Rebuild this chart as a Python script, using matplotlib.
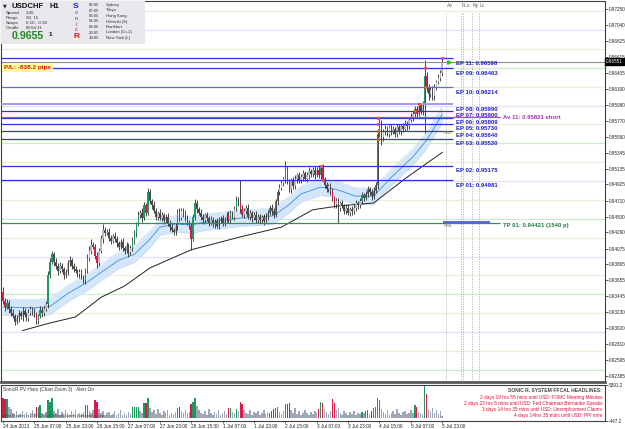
import numpy as np
import matplotlib
matplotlib.use("Agg")
import matplotlib.pyplot as plt
from matplotlib import transforms

plt.rcParams['font.family'] = ['Liberation Sans', 'DejaVu Sans']

# ——— hourly bars, USDCHF H1, 24 Jun 15:00 -> 5 Jul 23:00 ———
first_open = 0.9350
closes = [
    0.9338, 0.9330, 0.9336, 0.9328, 0.9322, 0.9318, 0.9310, 0.9315, 0.9322, 0.9318, 0.9325, 0.9320, 0.9316, 0.9322, 0.9327,
    0.9324, 0.9320, 0.9312, 0.9318, 0.9326, 0.9322, 0.9328, 0.9334, 0.9372, 0.9390, 0.9400, 0.9390, 0.9384, 0.9378, 0.9384,
    0.9380, 0.9372, 0.9376, 0.9388, 0.9392, 0.9385, 0.9380, 0.9378, 0.9374, 0.9376, 0.9370, 0.9366, 0.9378, 0.9395, 0.9405,
    0.9412, 0.9410, 0.9398, 0.9388, 0.9405, 0.9420, 0.9432, 0.9428, 0.9430, 0.9422, 0.9418, 0.9424, 0.9420, 0.9415, 0.9410,
    0.9416, 0.9408, 0.9405, 0.9412, 0.9403, 0.9408, 0.9418, 0.9428, 0.9440, 0.9452, 0.9455, 0.9448, 0.9465, 0.9455, 0.9482,
    0.9470, 0.9465, 0.9458, 0.9450, 0.9455, 0.9448, 0.9452, 0.9445, 0.9450, 0.9442, 0.9436, 0.9432, 0.9429, 0.9437, 0.9456,
    0.9448, 0.9458, 0.9454, 0.9448, 0.9442, 0.9438, 0.9420, 0.9450, 0.9468, 0.9460, 0.9455, 0.9450, 0.9445, 0.9452, 0.9448,
    0.9442, 0.9446, 0.9440, 0.9444, 0.9438, 0.9445, 0.9448, 0.9442, 0.9446, 0.9452, 0.9446, 0.9455, 0.9450, 0.9460, 0.9472,
    0.9468, 0.9460, 0.9452, 0.9458, 0.9462, 0.9450, 0.9455, 0.9448, 0.9452, 0.9446, 0.9450, 0.9445, 0.9449, 0.9444, 0.9450,
    0.9455, 0.9462, 0.9457, 0.9452, 0.9470, 0.9482, 0.9488, 0.9495, 0.9500, 0.9512, 0.9496, 0.9486, 0.9498, 0.9490, 0.9500,
    0.9505, 0.9498, 0.9502, 0.9508, 0.9500, 0.9505, 0.9510, 0.9506, 0.9512, 0.9505, 0.9512, 0.9505, 0.9514, 0.9500, 0.9492,
    0.9486, 0.9490, 0.9484, 0.9474, 0.9466, 0.9470, 0.9462, 0.9468, 0.9464, 0.9458, 0.9462, 0.9455, 0.9460, 0.9457, 0.9462,
    0.9468, 0.9465, 0.9470, 0.9478, 0.9475, 0.9480, 0.9486, 0.9482, 0.9477, 0.9484, 0.9492, 0.9560, 0.9575, 0.9555, 0.9562,
    0.9566, 0.9560, 0.9568, 0.9562, 0.9566, 0.9560, 0.9568, 0.9563, 0.9570, 0.9566, 0.9573, 0.9570, 0.9578, 0.9582, 0.9586,
    0.9592, 0.9586, 0.9596, 0.9590, 0.9598, 0.9636, 0.9620, 0.9612, 0.9618, 0.9610, 0.9622, 0.9628, 0.9634, 0.9640, 0.9655,
]
# wick lengths in pips above / below the body
wick_up = [
    7, 4, 5, 3, 4, 6, 3, 5, 4, 3, 5, 4, 3, 6, 4,
    3, 5, 4, 3, 5, 4, 3, 4, 6, 5, 4, 3, 5, 4, 6,
    4, 3, 5, 4, 6, 3, 4, 5, 3, 4, 5, 3, 4, 5, 6,
    8, 4, 3, 5, 4, 6, 8, 4, 3, 5, 4, 3, 5, 4, 3,
    4, 5, 3, 4, 3, 4, 5, 4, 3, 5, 4, 6, 4, 3, 6,
    4, 3, 5, 4, 3, 5, 4, 3, 4, 5, 3, 4, 3, 5, 4,
    5, 4, 3, 5, 4, 3, 4, 3, 5, 4, 3, 5, 4, 3, 4,
    3, 5, 4, 3, 4, 5, 3, 4, 3, 4, 5, 4, 3, 4, 5,
    4, 30, 5, 4, 3, 5, 4, 3, 4, 5, 3, 4, 3, 4, 5,
    4, 3, 5, 4, 3, 4, 5, 4, 3, 12, 5, 4, 3, 4, 5,
    3, 4, 5, 4, 3, 4, 5, 3, 4, 5, 4, 6, 4, 5, 3,
    4, 3, 5, 4, 3, 4, 5, 3, 4, 3, 5, 4, 3, 4, 5,
    4, 3, 5, 4, 3, 4, 5, 3, 4, 5, 4, 6, 5, 3, 4,
    5, 4, 3, 5, 4, 3, 4, 5, 3, 4, 5, 4, 3, 5, 4,
    5, 4, 4, 3, 5, 21, 6, 5, 4, 5, 4, 3, 5, 4, 5,
]
wick_dn = [
    4, 5, 3, 6, 4, 3, 4, 3, 5, 4, 6, 3, 4, 5, 3,
    4, 3, 5, 4, 3, 5, 4, 3, 5, 4, 3, 6, 4, 5, 3,
    4, 5, 3, 4, 3, 5, 4, 3, 4, 5, 3, 4, 6, 3, 4,
    5, 3, 4, 6, 4, 3, 5, 4, 3, 4, 5, 3, 4, 5, 4,
    3, 4, 5, 3, 6, 4, 3, 4, 5, 3, 4, 5, 3, 4, 3,
    4, 5, 3, 4, 5, 3, 4, 5, 3, 4, 5, 3, 4, 3, 5,
    4, 3, 5, 4, 3, 4, 14, 3, 4, 5, 3, 4, 5, 3, 4,
    5, 3, 4, 5, 3, 4, 3, 5, 4, 3, 4, 5, 3, 4, 3,
    4, 5, 3, 4, 5, 3, 4, 5, 3, 4, 5, 3, 4, 5, 3,
    4, 3, 5, 4, 3, 5, 4, 3, 4, 5, 3, 4, 5, 3, 4,
    5, 3, 4, 5, 3, 4, 5, 3, 4, 5, 3, 4, 5, 3, 4,
    3, 4, 5, 3, 4, 5, 21, 4, 3, 5, 4, 3, 4, 5, 3,
    4, 5, 3, 4, 5, 3, 4, 3, 5, 4, 3, 5, 4, 10, 5,
    4, 3, 5, 4, 3, 5, 4, 3, 5, 4, 3, 5, 4, 3, 5,
    4, 5, 3, 4, 5, 37, 5, 8, 4, 6, 5, 4, 3, 5, 4,
]
volume = [
    3300, 3100, 3100, 1870, 1450, 900, 700, 1100, 600, 800, 1200, 700, 1000, 500, 900,
    1300, 800, 1870, 1870, 2080, 900, 600, 1000, 2900, 2700, 3300, 1200, 800, 1500, 600,
    1000, 700, 1300, 900, 500, 1100, 800, 1400, 600, 900, 700, 1000, 2080, 2080, 1200,
    800, 1400, 2900, 2600, 1450, 900, 1200, 600, 800, 1000, 500, 700, 1100, 600, 900,
    1300, 500, 800, 600, 1000, 700, 1870, 1870, 1870, 1870, 1200, 900, 2500, 2500, 3300,
    1700, 1000, 1300, 700, 1500, 900, 600, 1100, 800, 1400, 500, 900, 700, 1000, 1650,
    1870, 1200, 800, 1400, 900, 1000, 2280, 2700, 3300, 2000, 1300, 900, 700, 1200, 600,
    1500, 800, 500, 1000, 700, 1300, 600, 900, 1100, 700, 1650, 1650, 1000, 800, 1450,
    1100, 2700, 2280, 1300, 900, 700, 1400, 600, 1000, 800, 1200, 500, 900, 1300, 700,
    1000, 830, 1250, 1450, 1650, 1870, 1000, 700, 1200, 2280, 2280, 2500, 1300, 900, 1600,
    700, 1100, 600, 900, 1400, 800, 500, 1000, 700, 1200, 900, 1450, 2700, 2500, 1500,
    1000, 700, 1200, 3100, 2500, 1300, 1700, 900, 600, 1100, 800, 500, 1000, 700, 1200,
    600, 900, 700, 1050, 800, 1250, 1350, 700, 1250, 1650, 1900, 3300, 2900, 1500, 1000,
    700, 1300, 600, 900, 1100, 700, 1500, 800, 500, 1000, 1200, 700, 900, 1300, 800,
    2080, 1750, 1000, 800, 700, 5391, 3940, 1500, 1200, 1600, 900, 1300, 700, 1100, 400,
]
vol_green = [2, 18, 19, 23, 24, 25, 42, 43, 66, 67, 68, 69, 72, 74, 89, 97, 98, 116, 119, 136,
             139, 140, 144, 162, 183, 185, 186, 189, 190, 191, 192, 210, 215]
vol_red = [0, 1, 17, 47, 48, 73, 90, 96, 115, 121, 122, 137, 138, 145, 146, 161, 163, 168, 169,
           188, 211, 216]

# moving averages (bar index, price)
ema_blue_bar = [0, 16, 24, 33, 43, 50, 59, 67, 75, 80, 88, 96, 104, 112, 121, 130, 138, 146, 152,
                162, 170, 180, 189, 198, 209, 216, 224]
ema_blue = [0.9330, 0.9329, 0.9331, 0.9348, 0.9363, 0.9376, 0.9392, 0.9400, 0.9420, 0.9436, 0.9440,
            0.9439, 0.9443, 0.9445, 0.9448, 0.9449, 0.9451, 0.9466, 0.9480, 0.9489, 0.9486, 0.9477,
            0.9477, 0.9502, 0.9529, 0.9551, 0.9585]
band_half = 0.0011
ema_black_bar = [10, 24, 37, 50, 62, 75, 96, 121, 142, 158, 171, 189, 206, 224]
ema_black = [0.9299, 0.9309, 0.9317, 0.9343, 0.9358, 0.9382, 0.9406, 0.9423, 0.9436, 0.9459,
             0.9464, 0.9468, 0.9502, 0.9535]

# trade levels
ep_names = ["EP 01", "EP 02", "EP 03", "EP 04", "EP 05", "EP 06", "EP 07", "EP 08", "EP 09", "EP 10", "EP 11"]
ep_prices = [0.94981, 0.95175, 0.95530, 0.95640, 0.95730, 0.95809, 0.95900, 0.95990, 0.96463, 0.96214, 0.96598]
ep_bars = [163, 162, 191, 191, 191, 191, 210, 212, 215, 215, 224]
av_price = 0.95821
tp_price = 0.94421
bid_price = 0.96551
rml_price = 0.94430

grid_green = [0.9247, 0.9347, 0.9447, 0.9547, 0.9647]
grid_purple = [0.9297, 0.9397, 0.9497, 0.9597, 0.9697]
grid_beige = [0.9272, 0.9322, 0.9372, 0.9422, 0.9472, 0.9522, 0.9572, 0.9622, 0.9672, 0.9722]

price_ticks = [0.97250, 0.97040, 0.96825, 0.96615, 0.96405, 0.96190, 0.95980, 0.95770, 0.95560,
               0.95345, 0.95135, 0.94925, 0.94710, 0.94500, 0.94290, 0.94075, 0.93865, 0.93655,
               0.93445, 0.93230, 0.93020, 0.92810, 0.92595, 0.92385]
date_labels = ["24 Jun 2013", "25 Jun 07:00", "25 Jun 23:00", "26 Jun 15:00", "27 Jun 07:00",
               "27 Jun 23:00", "28 Jun 15:00", "1 Jul 07:00", "1 Jul 23:00", "2 Jul 15:00",
               "3 Jul 07:00", "3 Jul 23:00", "4 Jul 15:00", "5 Jul 07:00", "5 Jul 23:00"]
session_names = ["Ao", "FLo", "", "Ny", "Lc"]
session_bars = [226.0, 233.6, 234.6, 239.2, 242.8]

headlines = ["2 days 19 hrs 55 mins until USD: FOMC Meeting Minutes",
             "2 days 23 hrs 5 mins until USD: Fed Chairman Bernanke Speaks",
             "3 days 14 hrs 35 mins until USD: Unemployment Claims",
             "4 days 14hrs 35 mins until USD: PPI m/m"]

# ——— derived ———
n = len(closes)
bars = np.arange(n)
closes = np.array(closes)
opens = np.concatenate([[first_open], closes[:-1]])
highs = np.maximum(opens, closes) + np.array(wick_up) * 0.0001
lows = np.minimum(opens, closes) - np.array(wick_dn) * 0.0001
code = np.array(['n'] * n)
code[vol_green] = 'g'
code[vol_red] = 'r'

GREEN = '#1a9a5e'
RED = '#de1848'

W, H = 625, 429
fig = plt.figure(figsize=(W / 100, H / 100), dpi=100)
fig.patch.set_facecolor('white')

def box(x0, y0, x1, y1):
    return [x0 / W, 1 - y1 / H, (x1 - x0) / W, (y1 - y0) / H]

ax = fig.add_axes(box(1, 1, 605, 382))
axv = fig.add_axes(box(1, 385, 605, 421), sharex=ax)

xmin, xmax = -1.0, 307.0
ymin, ymax = 0.92308, 0.97356
ax.set_xlim(xmin, xmax)
ax.set_ylim(ymin, ymax)

# pivot / round-number lines
ax.hlines(grid_green, xmin, xmax, color='#cdeccd', lw=0.9, zorder=1)
ax.hlines(grid_purple, xmin, xmax, color='#e4e1f6', lw=0.9, zorder=1)
ax.hlines(grid_beige, xmin, xmax, color='#f1ecdb', lw=0.9, zorder=1)

# moving averages
bx = np.array(ema_blue_bar)
by = np.array(ema_blue)
ax.fill_between(bx, by - band_half, by + band_half, color='#d4e6fa', lw=0, zorder=1.5)
ax.plot(bx, by + band_half, color='#c2daf4', lw=0.4, zorder=1.6)
ax.plot(bx, by - band_half, color='#c2daf4', lw=0.4, zorder=1.6)
ax.plot(bx, by, color='#3b8ee0', lw=0.6, zorder=1.7)
ax.plot(ema_black_bar, ema_black, color='#222222', lw=0.7, zorder=1.7)

# candles
body_col = []
for o, c, k in zip(opens, closes, code):
    if k == 'g':
        body_col.append(GREEN)
    elif k == 'r':
        body_col.append(RED)
    else:
        body_col.append('#b8b8be' if c >= o else '#4a4a50')
ax.vlines(bars, lows, highs, color='#2a2a2a', lw=0.6, zorder=2)
body_h = np.maximum(np.abs(closes - opens), 0.00008)
ax.bar(bars, body_h, bottom=np.minimum(opens, closes), width=0.75, color=body_col, lw=0, zorder=2.2)

# session markers
ax.vlines(session_bars, ymin, 0.97200, color='#b4b4b4', lw=0.6, linestyles=(0, (1.5, 1.5)), zorder=1)
for name, sb in zip(session_names, session_bars):
    if name:
        ax.text(sb + 0.4, 0.97300, name, fontsize=3.6, color='#666666', ha='left', va='center')

# trade levels
ep_line_col = ['#3434d2'] * len(ep_names)
ep_line_col[7] = '#9c9ce8'
ep_line_col[9] = '#6a6adc'
for name, p, col in zip(ep_names, ep_prices, ep_line_col):
    ax.hlines(p, xmin, 229.6, color=col, lw=1.4 if name == "EP 08" else 0.9, zorder=3)
    ax.annotate(f"{name}: {p:.5f}", xy=(230.8, p), xytext=(0, -5), textcoords='offset pixels',
                fontsize=4.3, fontweight='bold', color='#2020c8', ha='left', va='center')
ax.hlines(av_price, xmin, 253.6, color='#c040c8', lw=0.9, zorder=3)
ax.annotate(f"Av 11: {av_price:.5f} short", xy=(255.2, av_price), xytext=(0, -1), textcoords='offset pixels',
            fontsize=4.3, fontweight='bold', color='#a030c0', ha='left', va='center')
ax.hlines(tp_price, xmin, 253.6, color='#3a8a5a', lw=0.9, zorder=3)
ax.hlines(rml_price, 224.5, 248.5, color='#4848d8', lw=1.2, zorder=3.1)
ax.annotate(f"TP 01: {tp_price:.5f} (1540 p)", xy=(255.2, tp_price), xytext=(0, -3), textcoords='offset pixels',
            fontsize=4.3, fontweight='bold', color='#1f7a4a', ha='left', va='center')
ax.text(224.6, 0.9440, "RML", fontsize=3.2, color='#777777', ha='left', va='top')
ax.text(224.6, 0.9563, "RSL", fontsize=3.2, color='#777777', ha='left', va='top')

# entry markers
ax.scatter(ep_bars, ep_prices, s=4, color='#ff6a1a', edgecolors='#e03010', linewidths=0.3, zorder=4)

# bid line & price box
ax.axhline(bid_price, color='#8c8c8c', lw=0.8, zorder=2.5)
ax.plot(227.5, bid_price, marker='>', ms=2.5, color='#22cc22', zorder=4)
blend = transforms.blended_transform_factory(ax.transAxes, ax.transData)
ax.text(1.002, bid_price, f"{bid_price:.5f}", transform=blend, fontsize=3.3, color='white',
        ha='left', va='center', bbox=dict(boxstyle='square,pad=0.25', fc='black', ec='black'), zorder=6)

# price axis
ax.yaxis.tick_right()
ax.set_yticks(price_ticks)
ax.set_yticklabels([f"{p:.5f}" for p in price_ticks])
ax.tick_params(axis='y', labelsize=3.3, length=2, width=0.5, pad=1, colors='#222222')
ax.tick_params(axis='x', bottom=False, labelbottom=False)
for s in ax.spines.values():
    s.set_color('#404040')
    s.set_linewidth(0.8)
ax.spines['bottom'].set_linewidth(2.0)
ax.spines['bottom'].set_color('#5a5a5a')

# ——— volume histogram ———
vcol = [GREEN if k == 'g' else RED if k == 'r' else '#9ea6b8' for k in code]
axv.bar(bars, volume, width=0.75, color=vcol, lw=0)
axv.set_ylim(-447.2, 5391.2)
axv.yaxis.tick_right()
axv.set_yticks([5391.2, -447.2])
axv.set_yticklabels(["5391.2", "-447.2"])
axv.tick_params(axis='y', labelsize=3.3, length=2, width=0.5, pad=1, colors='#222222')
date_pos = np.arange(0, n, 16)
axv.set_xticks(date_pos)
axv.set_xticklabels(date_labels, ha='left')
axv.tick_params(axis='x', labelsize=3.4, length=1.5, width=0.5, pad=0.8, colors='#222222')
for s in axv.spines.values():
    s.set_color('#404040')
    s.set_linewidth(0.8)

# ——— overlay in pixel space for panel texts ———
ov = fig.add_axes([0, 0, 1, 1], zorder=10)
ov.set_xlim(0, W)
ov.set_ylim(H, 0)
ov.axis('off')
ov.patch.set_alpha(0)

ov.add_patch(plt.Rectangle((1, 1), 144, 43, color='#e7e7ec', lw=0))
ov.text(3, 6, "▼", fontsize=3.5, color='#222222', va='center', family=['DejaVu Sans'])
ov.text(12, 6, "USDCHF", fontsize=5.6, fontweight='bold', color='#111111', va='center')
ov.text(50, 6, "H1", fontsize=5.6, fontweight='bold', color='#111111', va='center')
info_keys = ["Spread", "Range", "Swaps", "Candle"]
info_vals = ["3.30", "90, 15", "0.10, -0.90", "00:54:11"]
for j, (k, v) in enumerate(zip(info_keys, info_vals)):
    ov.text(6, 13 + 5 * j, k, fontsize=3.2, color='#333333', va='center')
    ov.text(26, 13 + 5 * j, v, fontsize=3.2, color='#333333', va='center')
ov.text(12, 36, "0.9655", fontsize=7.6, fontweight='bold', color='#1c8c1c', va='center')
ov.text(49, 34, "1", fontsize=4.6, fontweight='bold', color='#111111', va='center')
sonic = [("S", 6, '#2020e0', 6.0), ("o", 13, '#6a6ae0', 3.6), ("n", 18.5, '#9050c8', 3.6),
         ("i", 24, '#c040a0', 3.6), ("c", 29.5, '#e03070', 3.6), ("R", 37, '#e01020', 6.0)]
for ch, yy, col, fs in sonic:
    ov.text(76, yy, ch, fontsize=fs, fontweight='bold', color=col, ha='center', va='center')
sess_time = ["06:05", "07:05", "06:05", "01:05", "08:05", "23:05", "18:05"]
sess_city = ["Sydney", "Tokyo", "Hong Kong", "Helsinki (S)", "Frankfurt", "London (O+1)", "New York (L)"]
for j, (t, c) in enumerate(zip(sess_time, sess_city)):
    ov.text(89, 5 + 5.5 * j, t, fontsize=3.1, color='#333333', va='center')
    ov.text(106, 5 + 5.5 * j, c, fontsize=3.1, color='#333333', va='center')

ov.text(4, 67.5, "P/L: -838.2 pips", fontsize=4.6, fontweight='bold', color='#e01010', va='center',
        bbox=dict(boxstyle='square,pad=0.3', fc='#ffff9a', ec='none'))

ov.text(3, 389, "SonicR PV Histo (Chart Zoom 3)   Alert On", fontsize=3.4, color='#333333', va='center')
ov.text(2, 416.5, "MetaTrader, © 2001-2013, MetaQuotes Software Corp.", fontsize=3.1, color='#444444',
        va='center')
ov.text(602, 391, "SONIC R. SYSTEM FFCAL HEADLINES:", fontsize=3.6, fontweight='bold', color='#444444',
        ha='right', va='center')
for j, t in enumerate(headlines):
    ov.text(602, 397.5 + 6 * j, t, fontsize=3.4, color='#e0103a', ha='right', va='center')

fig.savefig("out.png", dpi=100)
